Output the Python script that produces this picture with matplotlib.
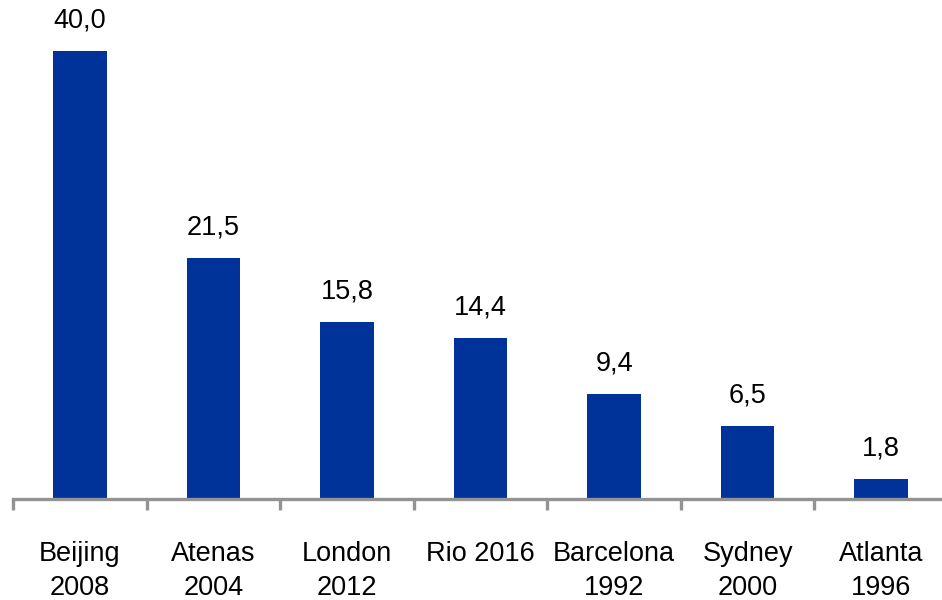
import matplotlib
matplotlib.use("Agg")
import matplotlib.pyplot as plt
import numpy as np

categories = ["Beijing\n2008", "Atenas\n2004", "London\n2012", "Rio 2016",
              "Barcelona\n1992", "Sydney\n2000", "Atlanta\n1996"]
values = [40.0, 21.5, 15.8, 14.4, 9.4, 6.5, 1.8]
value_labels = ["40,0", "21,5", "15,8", "14,4", "9,4", "6,5", "1,8"]

plt.rcParams["font.family"] = ["Liberation Sans", "DejaVu Sans"]

fig = plt.figure(figsize=(9.42, 6.0), dpi=100)
ax = fig.add_axes([13 / 942, 101 / 600, 935 / 942, 499 / 600])

x = np.arange(len(categories))
bar_color = "#003399"
axis_color = "#939393"

ax.bar(x, values, width=0.40, color=bar_color, zorder=2)

for xi, v, lab in zip(x, values, value_labels):
    ax.annotate(lab, (xi, v), xytext=(0, 12.5), textcoords="offset points",
                ha="center", va="bottom", fontsize=19.5, color="black")

ax.set_xlim(-0.5, len(categories) - 0.5)
ax.set_ylim(0, 40 * 499 / 448)

for side in ("top", "right", "left"):
    ax.spines[side].set_visible(False)
ax.spines["bottom"].set_color(axis_color)
ax.spines["bottom"].set_linewidth(2.4)
ax.spines["bottom"].set_zorder(3)

ax.set_yticks([])
ax.set_xticks(x)
ax.set_xticklabels(categories, fontsize=19.5, linespacing=1.38)
ax.tick_params(axis="x", which="major", length=0, pad=30.5)
ax.set_xticks(np.arange(-0.5, len(categories) + 0.5, 1.0), minor=True)
ax.tick_params(axis="x", which="minor", length=8, width=2.4, color=axis_color,
               direction="out")

fig.savefig("out.png", dpi=100)
